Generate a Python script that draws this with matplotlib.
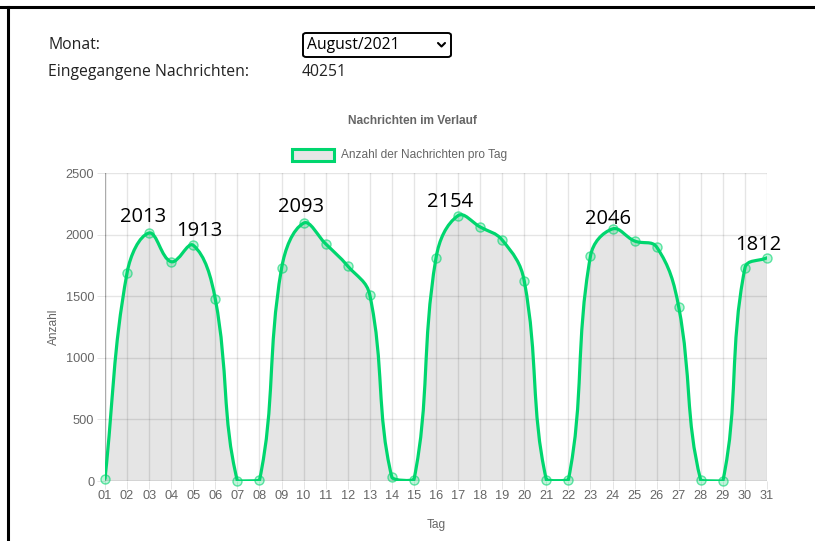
import numpy as np
import matplotlib
matplotlib.use("Agg")
import matplotlib.pyplot as plt
from matplotlib.path import Path
from matplotlib.patches import PathPatch, FancyBboxPatch, Rectangle
from matplotlib.lines import Line2D

# data (messages per day, August 2021)
days = list(range(1, 32))
day_labels = ["%02d" % d for d in days]
counts = [20, 1690, 2013, 1780, 1913, 1475, 0, 5,
          1725, 2093, 1925, 1745, 1510, 30, 10,
          1810, 2154, 2062, 1956, 1623, 10, 10,
          1826, 2046, 1948, 1899, 1412, 5, 0,
          1729, 1812]
y_ticks = [0, 500, 1000, 1500, 2000, 2500]

# days that got a big number written over them
labelled_days = [3, 5, 10, 17, 24, 31]
label_offsets = [(-6, 16), (6, 14), (-3, 16), (-8, 14), (-5, 10), (-9, 13)]  # pixels

month = "August/2021"
total = "40251"

W, H = 815, 541
GREEN = "#00d66e"
GRAY = "#666666"

fig = plt.figure(figsize=(W / 100, H / 100), dpi=100)

def px(x, y):
    # pixel position (from top-left) -> figure fraction
    return x / W, 1 - y / H

# plot area
left, right, top, bottom = 105, 767, 173, 481
ax = fig.add_axes([left / W, 1 - bottom / H, (right - left) / W, (bottom - top) / H])
ax.set_xlim(1, 31)
ax.set_ylim(0, 2500)

# frame of the web page
fig.add_artist(Line2D([0, 1], [1 - 6.5 / H, 1 - 6.5 / H], color="black", lw=2.2))
fig.add_artist(Line2D([8 / W, 8 / W], [0, 1 - 6.5 / H], color="black", lw=2.2))

# form part on top
fs_form = 11.3
fig.text(*px(48, 45), "Monat:", fontsize=fs_form, family="Open Sans", va="center", color="#222222")
fig.text(*px(48, 72), "Eingegangene Nachrichten:", fontsize=fs_form, family="Open Sans",
         va="center", color="#222222")
fig.text(*px(302, 72), total, fontsize=fs_form, family="Open Sans", va="center", color="#222222")
box = FancyBboxPatch(px(303, 57), 148 / W, 24 / H, boxstyle="round,pad=0,rounding_size=0.004",
                     transform=fig.transFigure, fc="white", ec="black", lw=1.4)
fig.add_artist(box)
fig.text(*px(307, 45), month, fontsize=fs_form, family="Open Sans", va="center", color="black")
cx = [px(438, 43)[0], px(441.5, 46.5)[0], px(445, 43)[0]]
cy = [px(438, 43)[1], px(441.5, 46.5)[1], px(445, 43)[1]]
fig.add_artist(Line2D(cx, cy, color="black", lw=1.5, solid_capstyle="round"))

# title and legend
fig.text(*px(412, 121), "Nachrichten im Verlauf", fontsize=8.6, fontweight="bold",
         family="Liberation Sans", color=GRAY, ha="center", va="center")
fig.add_artist(Rectangle(px(292, 161), 42 / W, 12 / H, transform=fig.transFigure,
                         fc="#e6e6e6", ec=GREEN, lw=2.2))
fig.text(*px(341, 155), "Anzahl der Nachrichten pro Tag", fontsize=8.6,
         family="Liberation Sans", color=GRAY, va="center")

# grid / axes like chart.js
grid_c = (0, 0, 0, 0.1)
for d in days:
    ax.axvline(d, color=grid_c, lw=1, zorder=1)
for t in y_ticks:
    ax.axhline(t, color=grid_c, lw=1, zorder=1)
ax.axhline(0, color=(0, 0, 0, 0.25), lw=1, zorder=1)
ax.axvline(1, color=(0, 0, 0, 0.25), lw=1, zorder=1)
for s in ax.spines.values():
    s.set_visible(False)
ax.set_xticks(days)
ax.set_xticklabels(day_labels)
ax.set_yticks(y_ticks)
ax.tick_params(length=8 * 0.72, width=0.72, color=grid_c, labelcolor=GRAY, labelsize=9.2, pad=2)
ax.tick_params(axis="x", pad=1)
for lab in ax.get_xticklabels() + ax.get_yticklabels():
    lab.set_family("Liberation Sans")
ax.set_xlabel("Tag", fontsize=8.6, color=GRAY, family="Liberation Sans", labelpad=12)
ax.set_ylabel("Anzahl", fontsize=8.6, color=GRAY, family="Liberation Sans", labelpad=4)

# bezier curve like chart.js (tension 0.4), control points computed in pixel space
fig.canvas.draw()
pts = ax.transData.transform(np.column_stack([days, counts]))
bb = ax.bbox
n = len(pts)
ctrl_prev, ctrl_next = [], []
tension = 0.4
for i in range(n):
    cur = pts[i]
    prv = pts[i - 1] if i > 0 else cur
    nxt = pts[i + 1] if i < n - 1 else cur
    d01 = np.hypot(*(cur - prv))
    d12 = np.hypot(*(nxt - cur))
    tot = d01 + d12
    s01 = d01 / tot if tot else 0
    s12 = d12 / tot if tot else 0
    cp = cur - tension * s01 * (nxt - prv)
    cn = cur + tension * s12 * (nxt - prv)
    for c in (cp, cn):
        c[0] = min(max(c[0], bb.x0), bb.x1)
        c[1] = min(max(c[1], bb.y0), bb.y1)
    ctrl_prev.append(cp)
    ctrl_next.append(cn)

inv = ax.transData.inverted()
verts = [pts[0]]
codes = [Path.MOVETO]
for i in range(1, n):
    verts += [ctrl_next[i - 1], ctrl_prev[i], pts[i]]
    codes += [Path.CURVE4] * 3
verts = inv.transform(np.array(verts))

fill_verts = np.vstack([verts, [[days[-1], 0], [days[0], 0], [days[0], counts[0]]]])
fill_codes = codes + [Path.LINETO, Path.LINETO, Path.CLOSEPOLY]
ax.add_patch(PathPatch(Path(fill_verts, fill_codes), fc=(0, 0, 0, 0.1), ec="none", zorder=2))
ax.add_patch(PathPatch(Path(verts, codes), fc="none", ec=GREEN, lw=2.3, zorder=3,
                       capstyle="round", joinstyle="round"))
ax.plot(days, counts, "o", ms=6.5, mfc=(0, 0.84, 0.43, 0.25), mec=(0, 0.84, 0.43, 0.6),
        mew=1, zorder=4, clip_on=False)

# big value labels
for d, off in zip(labelled_days, label_offsets):
    v = counts[d - 1]
    ax.annotate(str(v), (d, v), xytext=off, textcoords="offset pixels", ha="center",
                va="center", fontsize=14.5, family="Open Sans", color="black", zorder=5,
                annotation_clip=False)

fig.savefig("out.png", dpi=100)
